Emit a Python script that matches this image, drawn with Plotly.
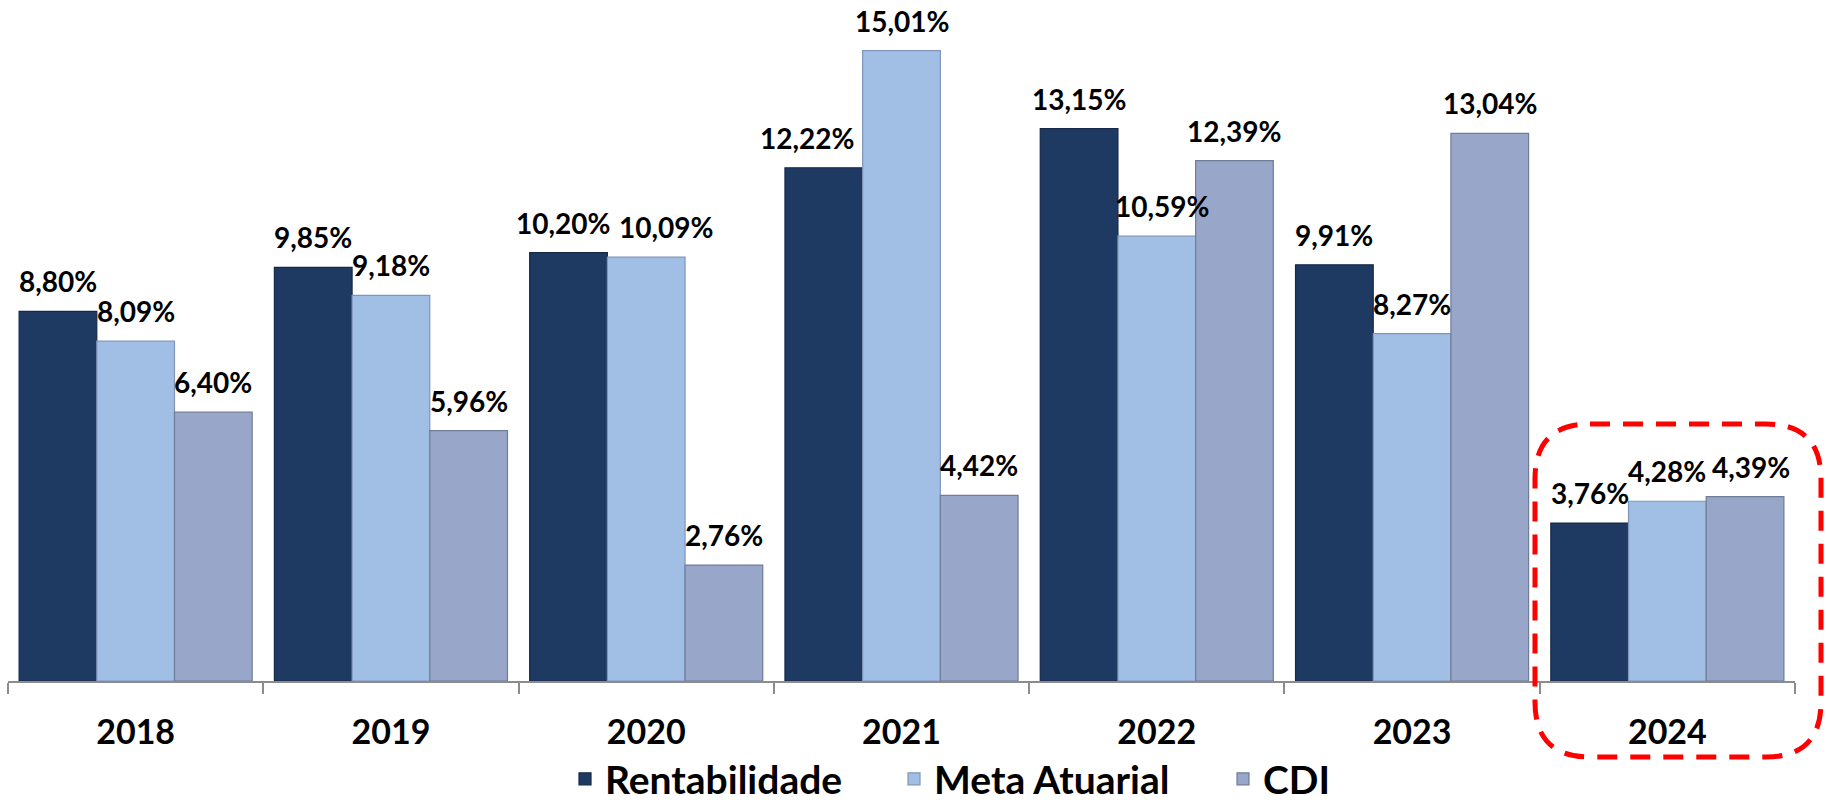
import plotly.graph_objects as go

years = ["2018", "2019", "2020", "2021", "2022", "2023", "2024"]
rentabilidade = [8.80, 9.85, 10.20, 12.22, 13.15, 9.91, 3.76]
meta_atuarial = [8.09, 9.18, 10.09, 15.01, 10.59, 8.27, 4.28]
cdi = [6.40, 5.96, 2.76, 4.42, 12.39, 13.04, 4.39]

series = [
    ("Rentabilidade", rentabilidade, "#1F3A62", "#152a48"),
    ("Meta Atuarial", meta_atuarial, "#A1BEE4", "#7f96b8"),
    ("CDI", cdi, "#97A6C9", "#6f7d98"),
]

# label nudges (pixels) used by the original to avoid collisions
label_nudge = {("2020", 0): -6, ("2020", 1): 20, ("2021", 0): -17, ("2022", 1): 5,
               ("2024", 2): 6}

W, H = 1826, 803
ML, MR, MT, MB = 8, 31, 9, 122
PW, PH = W - ML - MR, H - MT - MB
YMAX = 16
BARGAP = 0.087
bw = (1 - BARGAP) / 3

fig = go.Figure()
annotations = []
for k, (name, vals, col, lcol) in enumerate(series):
    fig.add_trace(go.Bar(
        name=name, x=years, y=vals,
        marker=dict(color=col, line=dict(color=lcol, width=1.2)),
    ))
    for i, v in enumerate(vals):
        annotations.append(dict(
            x=i + (k - 1) * bw, y=v, xref="x", yref="y",
            text=f"{v:.2f}".replace(".", ",") + "%",
            showarrow=False, yanchor="bottom", xanchor="center", yshift=11,
            xshift=label_nudge.get((years[i], k), 0),
            font=dict(family="Lato", size=28, color="black", weight=700),
        ))

# rounded dashed highlight box around 2024 (pixel geometry -> paper)
def px2paper(px, py):
    return (px - ML) / PW, (H - MB - py) / PH

bx0, bx1, by0, by1, r = 1535, 1821, 424, 757, 55
pts = [
    ("M", [(bx0 + r, by0)]),
    ("L", [(bx1 - r, by0)]),
    ("Q", [(bx1, by0), (bx1, by0 + r)]),
    ("L", [(bx1, by1 - r)]),
    ("Q", [(bx1, by1), (bx1 - r, by1)]),
    ("L", [(bx0 + r, by1)]),
    ("Q", [(bx0, by1), (bx0, by1 - r)]),
    ("L", [(bx0, by0 + r)]),
    ("Q", [(bx0, by0), (bx0 + r, by0)]),
]
path = ""
for cmd, plist in pts:
    path += cmd + " " + " ".join(
        f"{px2paper(a, b)[0]:.5f},{px2paper(a, b)[1]:.5f}" for a, b in plist) + " "
path += "Z"

fig.update_layout(
    width=W, height=H,
    margin=dict(l=ML, r=MR, t=MT, b=MB, autoexpand=False),
    paper_bgcolor="white", plot_bgcolor="white",
    barmode="group", bargap=BARGAP, bargroupgap=0,
    showlegend=True,
    legend=dict(
        orientation="h", x=px2paper(565, 0)[0], xanchor="left",
        y=px2paper(0, 779)[1], yanchor="middle",
        font=dict(family="Lato", size=39, color="black", weight=700),
        entrywidth=284, entrywidthmode="pixels",
        bgcolor="rgba(0,0,0,0)",
    ),
    xaxis=dict(
        type="category", range=[-0.5, 6.5], automargin=False,
        showline=True, linecolor="#8c8c8c", linewidth=1.5,
        ticks="outside", tickson="boundaries", ticklen=11, tickcolor="#8c8c8c", tickwidth=1.5,
        tickfont=dict(family="Lato", size=34, color="black", weight=700),
        ticklabelstandoff=20,
        showgrid=False,
    ),
    yaxis=dict(range=[0, YMAX], visible=False, showgrid=False, zeroline=False,
               automargin=False),
    annotations=annotations,
    shapes=[dict(type="path", path=path, xref="paper", yref="paper",
                 line=dict(color="#FF0000", width=5, dash="20px,13px"),
                 fillcolor="rgba(0,0,0,0)")],
)

fig.write_html("out.html", config={"displayModeBar": False},
               post_script="document.body.style.margin='0';document.body.style.overflow='hidden';")
